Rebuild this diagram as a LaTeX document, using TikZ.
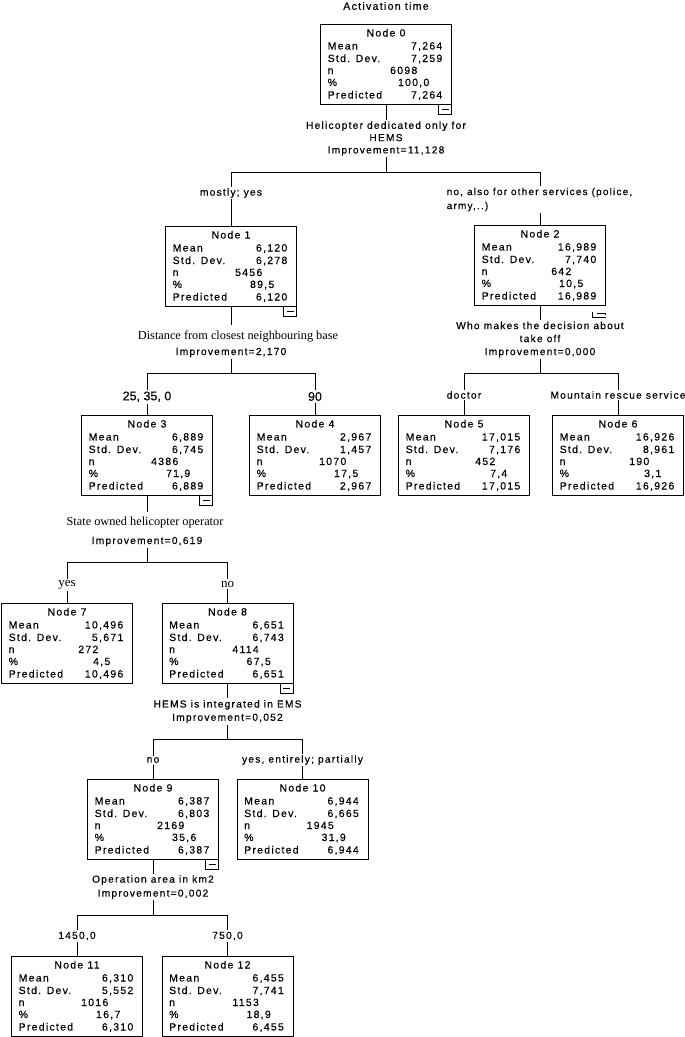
\documentclass[tikz,border=0pt]{standalone}
\usepackage{fontspec}
\setmainfont{Liberation Serif}
\newfontfamily\boxfont[LetterSpace=12,FakeBold=0.35]{Liberation Sans}
\newfontfamily\plainsans[FakeBold=0.2]{Liberation Sans}
\newfontfamily\seriffont{Liberation Serif}
\tikzset{
  tbox/.style={draw, line width=1pt, minimum width=131pt, minimum height=80pt, anchor=north, inner sep=0pt, outer sep=0pt},
  rowtxt/.style={font=\boxfont\fontsize{10.5}{12}\selectfont, inner sep=0pt},
  txt/.style={font=\boxfont\fontsize{10.2}{12.3}\selectfont, inner sep=1.5pt},
  sertxt/.style={font=\seriffont\fontsize{12.3}{14}\selectfont, inner xsep=1pt, inner ysep=5pt},
  serbig/.style={font=\seriffont\fontsize{13}{15}\selectfont, inner sep=1.5pt},
  bigsans/.style={font=\plainsans\fontsize{12.5}{15}\selectfont, inner sep=1.5pt},
  edge/.style={draw, line width=1pt},
}
\newcommand{\treenode}[9]{%
  \node[tbox] (#1) at (#2,#3) {};
  \node[rowtxt,anchor=base] (#1t) at ([yshift=-12.5pt]#1.north) {Node #4};
  \node[rowtxt,anchor=base west] (#1a) at ([xshift=7pt,yshift=-25.5pt]#1.north west) {Mean};
  \node[rowtxt,anchor=base west] (#1b) at ([xshift=7pt,yshift=-38pt]#1.north west) {Std. Dev.};
  \node[rowtxt,anchor=base west] (#1c) at ([xshift=7pt,yshift=-50pt]#1.north west) {n};
  \node[rowtxt,anchor=base west] (#1d) at ([xshift=7pt,yshift=-62pt]#1.north west) {\%};
  \node[rowtxt,anchor=base west] (#1e) at ([xshift=7pt,yshift=-74.5pt]#1.north west) {Predicted};
  \node[rowtxt,anchor=base east] (#1A) at ([xshift=-9pt,yshift=-25.5pt]#1.north east) {#5};
  \node[rowtxt,anchor=base east] (#1B) at ([xshift=-9pt,yshift=-38pt]#1.north east) {#6};
  \node[rowtxt,anchor=base east] (#1C) at ([xshift=97pt,yshift=-50pt]#1.north west) {#7};
  \node[rowtxt,anchor=base east] (#1D) at ([xshift=-22pt,yshift=-62pt]#1.north east) {#8};
  \node[rowtxt,anchor=base east] (#1E) at ([xshift=-9pt,yshift=-74.5pt]#1.north east) {#9};
}
\newcommand{\minusmark}[1]{%
  \draw[line width=1pt] ([xshift=-13pt]#1.south east) rectangle ([yshift=-10pt]#1.south east);
  \draw[line width=1pt] ([xshift=-10pt,yshift=-5pt]#1.south east) -- ([xshift=-3pt,yshift=-5pt]#1.south east);
}
\begin{document}
\begin{tikzpicture}[x=1pt,y=-1pt]
\useasboundingbox (0,0) rectangle (685,1037);
\node[txt,font=\boxfont\fontsize{10.6}{12}\selectfont] (title) at (386,6) {Activation time};

\treenode{n0}{386}{24}{0}{7,264}{7,259}{6098}{100,0}{7,264}
\treenode{n1}{231}{226}{1}{6,120}{6,278}{5456}{89,5}{6,120}
\treenode{n2}{540}{225}{2}{16,989}{7,740}{642}{10,5}{16,989}
\treenode{n3}{147}{415}{3}{6,889}{6,745}{4386}{71,9}{6,889}
\treenode{n4}{315}{415}{4}{2,967}{1,457}{1070}{17,5}{2,967}
\treenode{n5}{464}{415}{5}{17,015}{7,176}{452}{7,4}{17,015}
\treenode{n6}{618}{415}{6}{16,926}{8,961}{190}{3,1}{16,926}
\treenode{n7}{67}{603}{7}{10,496}{5,671}{272}{4,5}{10,496}
\treenode{n8}{227.5}{603}{8}{6,651}{6,743}{4114}{67,5}{6,651}
\treenode{n9}{153}{779}{9}{6,387}{6,803}{2169}{35,6}{6,387}
\treenode{n10}{302.5}{779}{10}{6,944}{6,665}{1945}{31,9}{6,944}
\treenode{n11}{77}{956}{11}{6,310}{5,552}{1016}{16,7}{6,310}
\treenode{n12}{227.5}{956}{12}{6,455}{7,741}{1153}{18,9}{6,455}

\minusmark{n0}
\minusmark{n1}
\minusmark{n3}
\minusmark{n8}
\minusmark{n9}
\draw[line width=1pt] ([xshift=-13pt,yshift=-6.5pt]n2.south east) -- ([xshift=-13pt,yshift=-12.5pt]n2.south east) -- ([xshift=0pt,yshift=-12.5pt]n2.south east);
\draw[line width=1pt] ([xshift=-9pt,yshift=-8.5pt]n2.south east) -- ([xshift=0pt,yshift=-8.5pt]n2.south east) -- ([xshift=0pt,yshift=-10pt]n2.south east);

% split of node 0
\node[txt,align=center] (q0) at (386,138.5) {Helicopter dedicated only for\\HEMS\\Improvement=11,128};
\coordinate (h0) at (386,172);
\coordinate (h0a) at (231,172);
\coordinate (h0b) at (540,172);
\node[txt] (l1) at (231,193) {mostly; yes};
\node[txt,align=left,font=\boxfont\fontsize{10}{14}\selectfont] (l2) at (539.5,199.5) {no, also for other services (police,\\army,..)};
\draw[edge] (n0.south) -- (n0.south |- q0.north);
\draw[edge] (q0.south -| n0.south) -- (h0);
\draw[edge] (h0a) -- (h0b);
\draw[edge] (h0a) -- (h0a |- l1.north);
\draw[edge] (h0a |- l1.south) -- (n1.north);
\draw[edge] (h0b) -- (h0b |- l2.north);
\draw[edge] (h0b |- l2.south) -- (n2.north);

% split of node 1
\node[sertxt] (q1a) at (238,336) {Distance from closest neighbouring base};
\node[txt] (q1b) at (231,352.5) {Improvement=2,170};
\coordinate (h1) at (231,373.3);
\coordinate (h1a) at (147,373.3);
\coordinate (h1b) at (315,373.3);
\node[bigsans] (l3) at (147,396.7) {25, 35, 0};
\node[bigsans] (l4) at (315,396.5) {90};
\draw[edge] (n1.south) -- (n1.south |- q1a.north);
\draw[edge] (q1b.south -| n1.south) -- (h1);
\draw[edge] (h1a) -- (h1b);
\draw[edge] (h1a) -- (h1a |- l3.north);
\draw[edge] (h1a |- l3.south) -- (n3.north);
\draw[edge] (h1b) -- (h1b |- l4.north);
\draw[edge] (h1b |- l4.south) -- (n4.north);

% split of node 2
\node[txt,align=center,font=\boxfont\fontsize{10.2}{13}\selectfont] (q2) at (540,339.5) {Who makes the decision about\\take off\\Improvement=0,000};
\coordinate (h2) at (540,373);
\coordinate (h2a) at (464,373);
\coordinate (h2b) at (618,373);
\node[txt] (l5) at (464,395) {doctor};
\node[txt] (l6) at (618,395) {Mountain rescue service};
\draw[edge] (n2.south) -- (n2.south |- q2.north);
\draw[edge] (q2.south -| n2.south) -- (h2);
\draw[edge] (h2a) -- (h2b);
\draw[edge] (h2a) -- (h2a |- l5.north);
\draw[edge] (h2a |- l5.south) -- (n5.north);
\draw[edge] (h2b) -- (h2b |- l6.north);
\draw[edge] (h2b |- l6.south) -- (n6.north);

% split of node 3
\node[sertxt] (q3a) at (145,522.5) {State owned helicopter operator};
\node[txt] (q3b) at (147,541.5) {Improvement=0,619};
\coordinate (h3) at (147,562.5);
\coordinate (h3a) at (67,562.5);
\coordinate (h3b) at (227.5,562.5);
\node[serbig] (l7) at (67,585) {yes};
\node[serbig] (l8) at (227.5,584) {no};
\draw[edge] (n3.south) -- (n3.south |- q3a.north);
\draw[edge] (q3b.south -| n3.south) -- (h3);
\draw[edge] (h3a) -- (h3b);
\draw[edge] (h3a) -- (h3a |- l7.north);
\draw[edge] (h3a |- l7.south) -- (n7.north);
\draw[edge] (h3b) -- (h3b |- l8.north);
\draw[edge] (h3b |- l8.south) -- (n8.north);

% split of node 8
\node[txt,align=center,font=\boxfont\fontsize{10.2}{13.3}\selectfont] (q8) at (227.5,711.5) {HEMS is integrated in EMS\\Improvement=0,052};
\coordinate (h8) at (227.5,739.3);
\coordinate (h8a) at (153,739.3);
\coordinate (h8b) at (302.5,739.3);
\node[txt] (l9) at (153,760) {no};
\node[txt] (l10) at (302.5,760) {yes, entirely; partially};
\draw[edge] (n8.south) -- (n8.south |- q8.north);
\draw[edge] (q8.south -| n8.south) -- (h8);
\draw[edge] (h8a) -- (h8b);
\draw[edge] (h8a) -- (h8a |- l9.north);
\draw[edge] (h8a |- l9.south) -- (n9.north);
\draw[edge] (h8b) -- (h8b |- l10.north);
\draw[edge] (h8b |- l10.south) -- (n10.north);

% split of node 9
\node[txt,align=center,font=\boxfont\fontsize{10.2}{14}\selectfont] (q9) at (153,887) {Operation area in km2\\Improvement=0,002};
\coordinate (h9) at (153,915);
\coordinate (h9a) at (77,915);
\coordinate (h9b) at (227.5,915);
\node[txt] (l11) at (77,936) {1450,0};
\node[txt] (l12) at (227.5,936) {750,0};
\draw[edge] (n9.south) -- (n9.south |- q9.north);
\draw[edge] (q9.south -| n9.south) -- (h9);
\draw[edge] (h9a) -- (h9b);
\draw[edge] (h9a) -- (h9a |- l11.north);
\draw[edge] (h9a |- l11.south) -- (n11.north);
\draw[edge] (h9b) -- (h9b |- l12.north);
\draw[edge] (h9b |- l12.south) -- (n12.north);
\end{tikzpicture}
\end{document}
